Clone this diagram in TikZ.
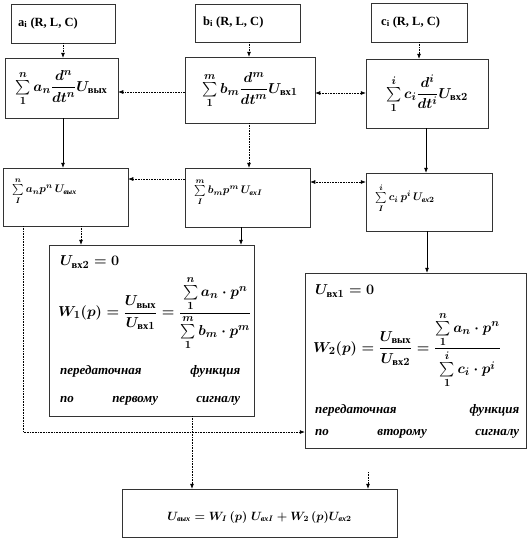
\documentclass[tikz,border=0pt]{standalone}
\usepackage{amsmath}
\usepackage{fontspec}
\setmainfont{Liberation Serif}
\usetikzlibrary{arrows.meta,positioning,calc}
\newcommand{\cyr}[1]{\text{\normalfont\bfseries #1}}
\newcommand{\icyr}[1]{\text{\normalfont\bfseries\itshape #1}}

\begin{document}
\begin{tikzpicture}[x=1pt, y=-1pt,
    box/.style={draw=black!80, line width=0.5pt, inner sep=0pt},
    lbl/.style={font=\fontsize{12.5}{14}\selectfont\bfseries, inner sep=0pt},
    frm/.style={font=\fontsize{15}{17}\selectfont\boldmath, inner sep=0pt},
    sfrm/.style={font=\fontsize{11}{13}\selectfont\boldmath, inner sep=0pt},
    wtxt/.style={font=\fontsize{15}{17}\selectfont\boldmath, inner sep=0pt, anchor=west},
    itxt/.style={font=\fontsize{13}{15}\selectfont\bfseries\itshape, inner sep=0pt, anchor=west},
    dotarr/.style={densely dotted, line width=0.6pt, -{Latex[length=5pt,width=4pt]}},
    solarr/.style={line width=0.6pt, -{Latex[length=5pt,width=4pt]}},
    dblarr/.style={densely dotted, line width=0.6pt, {Latex[length=5pt,width=4pt]}-{Latex[length=5pt,width=4pt]}}
]
\useasboundingbox (0,0) rectangle (528,541);

% top row: parameters
\node[box, minimum width=104pt, minimum height=39pt] (ta) at (63,23.5) {};
\node[box, minimum width=105pt, minimum height=38pt] (tb) at (247.5,23) {};
\node[box, minimum width=96pt, minimum height=39pt] (tc) at (419,22.5) {};
\node[lbl, anchor=west] (tatxt) at (18,23) {a$_\mathbf{i}$ (R, L, C)};
\node[lbl, anchor=west] (tbtxt) at (203,22) {b$_\mathbf{i}$ (R, L, C)};
\node[lbl, anchor=west] (tctxt) at (381,22) {c$_\mathbf{i}$ (R, L, C)};

% differential equations
\node[box, minimum width=113pt, minimum height=60pt] (da) at (61.5,88) {};
\node[box, minimum width=130pt, minimum height=66pt] (db) at (250,90) {};
\node[box, minimum width=122pt, minimum height=69pt] (dc) at (427,93.5) {};
\node[frm] (datxt) at (da) {$\sum\limits_{1}^{n} a_{n}\dfrac{d^{n}}{dt^{n}}U_{\cyr{вых}}$};
\node[frm] (dbtxt) at (db) {$\sum\limits_{1}^{m} b_{m}\dfrac{d^{m}}{dt^{m}}U_{\cyr{вх}1}$};
\node[frm] (dctxt) at (dc) {$\sum\limits_{1}^{i} c_{i}\dfrac{d^{i}}{dt^{i}}U_{\cyr{вх}2}$};

% operator form
\node[box, minimum width=125pt, minimum height=58pt] (pa) at (65.5,197) {};
\node[box, minimum width=125pt, minimum height=59pt] (pb) at (247.5,197.5) {};
\node[box, minimum width=126pt, minimum height=58pt] (pc) at (429,202) {};
\node[sfrm, anchor=west] (patxt) at (12,191) {$\sum\limits_{I}^{n} a_{n}p^{n}\,U_{\icyr{вых}}$};
\node[sfrm, anchor=west] (pbtxt) at (194,192) {$\sum\limits_{I}^{m} b_{m}p^{m}\,U_{\icyr{вх}I}$};
\node[sfrm, anchor=west] (pctxt) at (375,198) {$\sum\limits_{I}^{i} c_{i}\,p^{i}\,U_{\icyr{вх}2}$};

% transfer functions
\node[box, minimum width=205pt, minimum height=171pt] (wa) at (151.5,330.5) {};
\node[box, minimum width=221pt, minimum height=175pt] (wb) at (415.5,360.5) {};

\node[wtxt] (wa1) at (60,262) {$U_{\cyr{вх}2}=0$};
\node[wtxt] (wa2) at (58,313) {$W_{1}(p)=\dfrac{U_{\cyr{вых}}}{U_{\cyr{вх}1}}=\dfrac{\sum\limits_{1}^{n}a_{n}\cdot p^{n}}{\sum\limits_{1}^{m}b_{m}\cdot p^{m}}$};
\node[itxt, text width=180pt] (wa3) at (60,371) {передаточная\hfill функция};
\node[itxt, text width=180pt] (wa4) at (60,401) {по\hfill первому\hfill сигналу};

\node[wtxt] (wb1) at (315,291) {$U_{\cyr{вх}1}=0$};
\node[wtxt] (wb2) at (313,350) {$W_{2}(p)=\dfrac{U_{\cyr{вых}}}{U_{\cyr{вх}2}}=\dfrac{\sum\limits_{1}^{n}a_{n}\cdot p^{n}}{\sum\limits_{1}^{i}c_{i}\cdot p^{i}}$};
\node[itxt, text width=204pt] (wb3) at (315,410) {передаточная\hfill функция};
\node[itxt, text width=204pt] (wb4) at (315,434) {по\hfill второму\hfill сигналу};

% result
\node[box, minimum width=275pt, minimum height=48pt] (out) at (259.5,513) {};
\node[sfrm, font=\fontsize{12}{14}\selectfont\boldmath] (outtxt) at (259.5,517) {$U_{\icyr{вых}}=W_{I}\,(p)\;U_{\icyr{вх}I}+W_{2}\,(p)U_{\icyr{вх}2}$};
\coordinate (k) at (368,472);

% connectors
\draw[dotarr] (ta.south) -- (ta.south |- da.north);
\draw[dotarr] ([xshift=1.5pt]tb.south) -- ([xshift=1.5pt]tb.south |- db.north);
\draw[dotarr] (tc.south) -- (tc.south |- dc.north);
\draw[dotarr] ([yshift=-2pt]db.west) -- ([yshift=-2pt]db.west -| da.east);
\draw[dblarr] ([yshift=-3pt]db.east) -- ([yshift=-3pt]db.east -| dc.west);

\draw[solarr] (da.south -| 63,0) -- (63,0 |- pa.north);
\draw[dotarr] (db.south -| 249,0) -- (249,0 |- pb.north);
\draw[solarr] (dc.south -| 426,0) -- (426,0 |- pc.north);
\draw[dotarr] ([yshift=18.5pt]pb.west) -- ([yshift=18.5pt]pb.west -| pa.east);
\draw[dblarr] ([yshift=20pt]pc.west) -- ([yshift=20pt]pc.west -| pb.east);

\draw[dotarr] ([xshift=15.5pt]pa.south) -- ([xshift=15.5pt]pa.south |- wa.north);
\draw[solarr] ([xshift=-6.5pt]pb.south) -- ([xshift=-6.5pt]pb.south |- wa.north);
\draw[solarr] ([xshift=-2pt]pc.south) -- ([xshift=-2pt]pc.south |- wb.north);
\draw[dotarr] ([xshift=-42.5pt]pa.south) |- ([yshift=-71.5pt]wb.west);
\draw[dotarr] ([xshift=40.5pt]wa.south) -- ([xshift=40.5pt]wa.south |- out.north);
\draw[dotarr] (k) -- (k |- out.north);

\end{tikzpicture}
\end{document}
